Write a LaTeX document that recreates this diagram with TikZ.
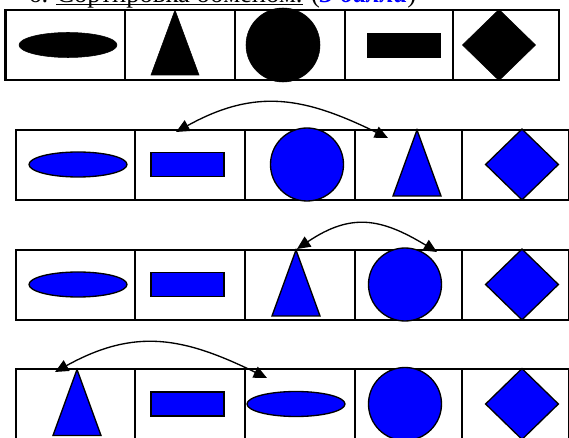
\documentclass[tikz,border=0pt]{standalone}
\usepackage{fontspec}
\setmainfont{Liberation Serif}
\usetikzlibrary{arrows.meta,shapes.geometric}

\begin{document}
\begin{tikzpicture}[x=0.75pt,y=-0.75pt,
  box/.style={line width=1.5pt},
  shp/.style={draw=black,line width=1pt,fill=blue},
  blk/.style={draw=black,fill=black},
  ell/.style={ellipse,minimum width=73.5pt,minimum height=18.75pt,inner sep=0pt},
  rct/.style={rectangle,minimum width=54.75pt,minimum height=18pt,inner sep=0pt},
  krh/.style={circle,minimum size=54.75pt,inner sep=0pt},
  kos/.style={diamond,minimum width=55pt,minimum height=53.5pt,inner sep=0pt},
  swp/.style={<->,>={Triangle[length=10pt,width=9pt]},line width=1pt},
  head/.style={inner sep=0pt,anchor=base west,font=\fontsize{20}{24}\selectfont}]
  \useasboundingbox (0,0) rectangle (569,438);
  % nadpis
  \node[head] (num) at (28,2.5) {6.};
  \node[head] (ttl) at (56,2.5) {Сортировка обменом.};
  \node[head] (pts) at ([xshift=6pt]ttl.base east) {(\textcolor{blue}{\textbf{\textit{3 балла}}})};
  \draw[line width=1pt] ([yshift=-1.5pt]ttl.base west) -- ([yshift=-1.5pt]ttl.base east);
  % radek 1 - vychozi
  \draw[box] (5.5,10) rectangle (559,80);
  \foreach \x in {125,235,344.5,453} {\draw[box] (\x,10) -- (\x,80);}
  \node[blk,ell] (e0) at (68,45) {};
  \draw[blk] (175,10) coordinate (t0) -- ++(-24,65) -- ++(48,0) -- cycle;
  \node[blk,krh,minimum size=55.5pt] (c0) at (283,45) {};
  \node[blk,rct] (r0) at (403.5,45) {};
  \node[blk,kos] (d0) at (499,45) {};
  % radky 2-4 - kroky
  \foreach \t in {130,250,369} {
    \draw[box] (15.5,\t) rectangle (568.5,\t+70);
    \foreach \x in {134.5,245,355,462} {\draw[box] (\x,\t) -- (\x,\t+70);}
  }
  \foreach \n/\y/\xe/\xt/\xc in {1/164.5/78/417/307,2/284.5/78/296/405,3/404/296/77/405} {
    \node[shp,ell] (e\n) at (\xe,\y) {};
    \node[shp,rct] (r\n) at (187.5,\y) {};
    \node[shp,krh] (c\n) at (\xc,\y) {};
    \node[shp,kos] (d\n) at (522,\y) {};
    \draw[shp] (\xt,\y-34.5) coordinate (t\n) -- ++(-24,66) -- ++(48,0) -- cycle;
  }
  % vymeny
  \coordinate (s1a) at (176,132); \coordinate (s1b) at (388,138);
  \coordinate (s2a) at (297,249); \coordinate (s2b) at (437,252);
  \coordinate (s3a) at (55,372);  \coordinate (s3b) at (267,378);
  \draw[swp] (s1a) .. controls (256.5,87.4) and (305,97.5) .. (s1b);
  \draw[swp] (s2a) .. controls (351,212.6) and (381,218) .. (s2b);
  \draw[swp] (s3a) .. controls (135.5,327.4) and (184,337.5) .. (s3b);
\end{tikzpicture}
\end{document}
